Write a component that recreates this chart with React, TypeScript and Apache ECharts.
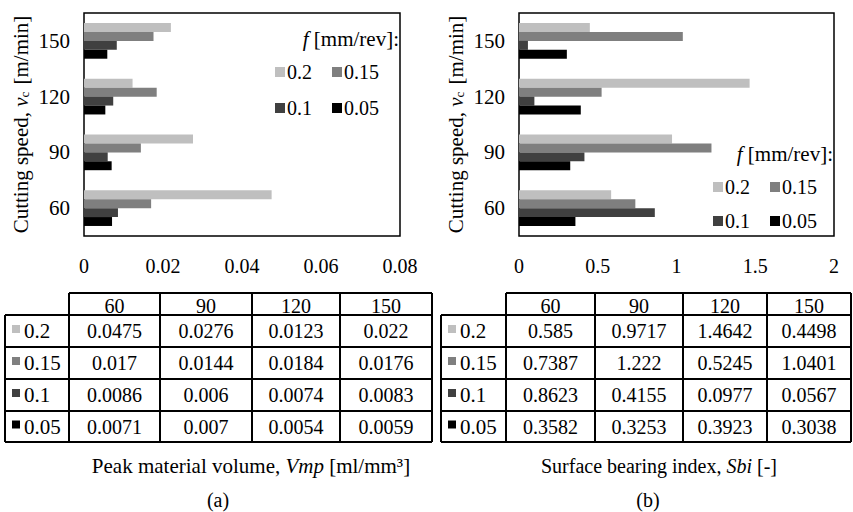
import React, { useEffect, useRef } from 'react';
import * as echarts from 'echarts';

// Cutting speed categories [m/min]
const speeds = ['60', '90', '120', '150'];
// Feed rates [mm/rev]
const feeds = ['0.2', '0.15', '0.1', '0.05'];
const feedColors = ['#bfbfbf', '#7f7f7f', '#404040', '#000000'];

// Peak material volume Vmp [ml/mm3], per feed, ordered by speed 60, 90, 120, 150
const vmp02 = [0.0475, 0.0276, 0.0123, 0.022];
const vmp015 = [0.017, 0.0144, 0.0184, 0.0176];
const vmp01 = [0.0086, 0.006, 0.0074, 0.0083];
const vmp005 = [0.0071, 0.007, 0.0054, 0.0059];

// Surface bearing index Sbi [-]
const sbi02 = [0.585, 0.9717, 1.4642, 0.4498];
const sbi015 = [0.7387, 1.222, 0.5245, 1.0401];
const sbi01 = [0.8623, 0.4155, 0.0977, 0.0567];
const sbi005 = [0.3582, 0.3253, 0.3923, 0.3038];

const vmpAxis = { min: 0, max: 0.08, interval: 0.02 };
const sbiAxis = { min: 0, max: 2, interval: 0.5 };

const FONT = 'Liberation Serif';

function makeTable(colEdges: number[], rowEdges: number[], rows: number[][]) {
  const els: any[] = [];
  const lineStyle = { stroke: '#000', lineWidth: 2 };
  const x0 = colEdges[0];
  const x1 = colEdges[1];
  const xEnd = colEdges[colEdges.length - 1];
  rowEdges.forEach((y, i) => {
    els.push({ type: 'line', shape: { x1: i === 0 ? x1 : x0, y1: y, x2: xEnd, y2: y }, style: lineStyle, silent: true });
  });
  colEdges.forEach((x, i) => {
    els.push({ type: 'line', shape: { x1: x, y1: i === 0 ? rowEdges[1] : rowEdges[0], x2: x, y2: rowEdges[rowEdges.length - 1] }, style: lineStyle, silent: true });
  });
  speeds.forEach((s, j) => {
    els.push({
      type: 'text',
      x: (colEdges[j + 1] + colEdges[j + 2]) / 2,
      y: (rowEdges[0] + rowEdges[1]) / 2 + 2,
      style: { text: s, align: 'center', verticalAlign: 'middle', fontSize: 20, fontFamily: FONT, fill: '#000' },
      silent: true,
    });
  });
  rows.forEach((vals, i) => {
    const yc = (rowEdges[i + 1] + rowEdges[i + 2]) / 2;
    els.push({ type: 'rect', shape: { x: x0 + 7, y: yc - 6, width: 8, height: 8 }, style: { fill: feedColors[i] }, silent: true });
    els.push({
      type: 'text', x: x0 + 19, y: yc,
      style: { text: feeds[i], align: 'left', verticalAlign: 'middle', fontSize: 21, fontFamily: FONT, fill: '#000' },
      silent: true,
    });
    vals.forEach((v, j) => {
      els.push({
        type: 'text',
        x: (colEdges[j + 1] + colEdges[j + 2]) / 2,
        y: yc,
        style: { text: String(v), align: 'center', verticalAlign: 'middle', fontSize: 20, fontFamily: FONT, fill: '#000' },
        silent: true,
      });
    });
  });
  return els;
}

export default function App() {
  const ref = useRef<HTMLDivElement>(null);
  useEffect(() => {
    if (!ref.current) return;
    const chart = echarts.init(ref.current, undefined, { renderer: 'svg' });
    const vmpRows = [vmp02, vmp015, vmp01, vmp005];
    const sbiRows = [sbi02, sbi015, sbi01, sbi005];

    const axisLabel = { color: '#000', fontSize: 20, fontFamily: FONT };
    const yName = {
      name: 'Cutting speed, {i|v}{s|c} [m/min]',
      nameLocation: 'middle',
      nameRotate: 90,
      nameGap: 53,
      nameTextStyle: {
        color: '#000', fontSize: 21, fontFamily: FONT,
        rich: {
          i: { fontStyle: 'italic', fontSize: 21, fontFamily: FONT, color: '#000' },
          s: { fontSize: 13, fontFamily: FONT, color: '#000', verticalAlign: 'bottom', padding: [8, 2, 0, 0] },
        },
      },
    };
    const grids = [
      { left: 84, top: 13, width: 316, height: 223 },
      { left: 519, top: 13, width: 315, height: 223 },
    ].map((g) => ({ ...g, show: true, borderColor: '#000', borderWidth: 1.5, containLabel: false }));

    const xAxes = [vmpAxis, sbiAxis].map((a, i) => ({
      type: 'value', gridIndex: i, min: a.min, max: a.max, interval: a.interval,
      axisLine: { show: false }, axisTick: { show: false }, splitLine: { show: false },
      axisLabel: { ...axisLabel, margin: 20 },
    }));
    const yAxes = [0, 1].map((i) => ({
      type: 'category', gridIndex: i, data: speeds,
      axisLine: { show: false }, axisTick: { show: false },
      axisLabel: { ...axisLabel, fontSize: 21, margin: 14 },
      ...yName,
    }));

    const series: any[] = [];
    [vmpRows, sbiRows].forEach((rows, gi) => {
      rows.forEach((vals, k) => {
        series.push({
          type: 'bar', name: feeds[k], xAxisIndex: gi, yAxisIndex: gi,
          data: vals, barGap: '0%', barCategoryGap: '36%',
          itemStyle: { color: feedColors[k] },
          silent: true,
        });
      });
    });

    const legendBase = {
      itemWidth: 10, itemHeight: 10, itemGap: 20, icon: 'rect', selectedMode: false, orient: 'horizontal',
      textStyle: { color: '#000', fontSize: 20, fontFamily: FONT, padding: [0, 0, 0, -3] },
    };
    const legends = [
      { ...legendBase, data: [feeds[0], feeds[1]], left: 270, top: 57 },
      { ...legendBase, data: [feeds[2], feeds[3]], left: 270, top: 93 },
      { ...legendBase, data: [feeds[0], feeds[1]], left: 708, top: 172 },
      { ...legendBase, data: [feeds[2], feeds[3]], left: 708, top: 206 },
    ];

    const legendTitle = (x: number, y: number) => ({
      type: 'text', x, y,
      style: {
        text: '{i|f} [mm/rev]:', align: 'right', verticalAlign: 'middle', fontSize: 21, fontFamily: FONT, fill: '#000',
        rich: { i: { fontStyle: 'italic', fontSize: 21, fontFamily: FONT, fill: '#000' } },
      },
      silent: true,
    });

    const capStyle = (text: string, size: number) => ({
      text, align: 'center', verticalAlign: 'middle', fontSize: size, fontFamily: FONT, fill: '#000',
      rich: { i: { fontStyle: 'italic', fontSize: size, fontFamily: FONT, fill: '#000' } },
    });

    const rowEdges = [293, 315, 347, 379, 411, 442];
    const graphic: any[] = [
      legendTitle(399, 39),
      legendTitle(833, 154),
      ...makeTable([5, 69, 160, 252, 340, 432], rowEdges, vmpRows),
      ...makeTable([441, 506, 595, 683, 767, 851], rowEdges, sbiRows),
      { type: 'text', x: 251, y: 466, style: capStyle('Peak material volume, {i|Vmp} [ml/mm³]', 21), silent: true },
      { type: 'text', x: 659, y: 466, style: capStyle('Surface bearing index, {i|Sbi} [-]', 20), silent: true },
      { type: 'text', x: 218, y: 500, style: capStyle('(a)', 20), silent: true },
      { type: 'text', x: 648, y: 500, style: capStyle('(b)', 20), silent: true },
    ];

    chart.setOption({
      animation: false,
      backgroundColor: '#fff',
      grid: grids,
      xAxis: xAxes,
      yAxis: yAxes,
      legend: legends,
      series,
      graphic,
    });
    return () => chart.dispose();
  }, []);
  return <div ref={ref} style={{ position: 'absolute', left: 0, top: 0, width: 853, height: 512 }} />;
}
